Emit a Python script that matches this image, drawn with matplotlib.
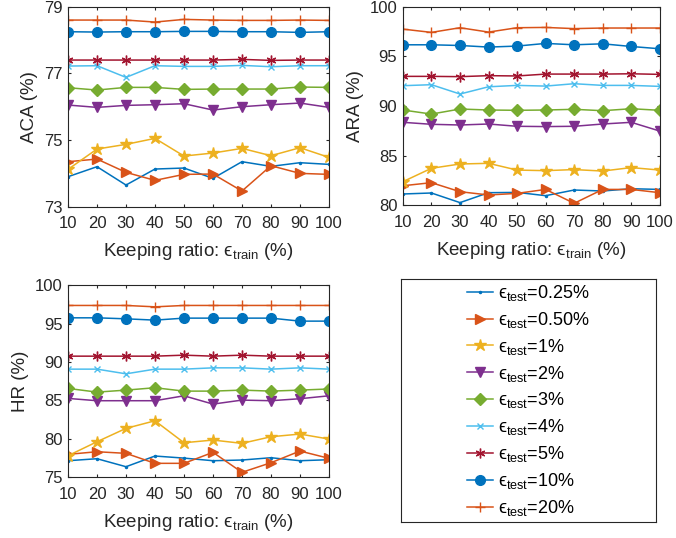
import matplotlib
matplotlib.use("Agg")
import matplotlib.pyplot as plt

plt.rcParams['font.family'] = ['Liberation Sans', 'DejaVu Sans']
plt.rcParams['mathtext.fontset'] = 'custom'
plt.rcParams['mathtext.rm'] = 'Liberation Sans'
plt.rcParams['mathtext.it'] = 'Liberation Sans:italic'
plt.rcParams['font.size'] = 12

# ti le giu lai khi huan luyen (%)
ty_le = [10, 20, 30, 40, 50, 60, 70, 80, 90, 100]
nhan_test = ['0.25%', '0.50%', '1%', '2%', '3%', '4%', '5%', '10%', '20%']

aca = [
    [73.90, 74.20, 73.65, 74.13, 74.16, 73.85, 74.35, 74.21, 74.32, 74.27],
    [74.35, 74.43, 74.03, 73.79, 73.97, 73.98, 73.47, 74.23, 74.00, 73.97],
    [74.12, 74.73, 74.87, 75.05, 74.52, 74.61, 74.75, 74.53, 74.77, 74.48],
    [76.05, 75.98, 76.04, 76.06, 76.09, 75.90, 76.00, 76.06, 76.11, 75.98],
    [76.57, 76.50, 76.58, 76.58, 76.52, 76.53, 76.53, 76.53, 76.59, 76.58],
    [77.22, 77.23, 76.88, 77.23, 77.21, 77.21, 77.24, 77.20, 77.23, 77.23],
    [77.40, 77.40, 77.40, 77.40, 77.40, 77.40, 77.42, 77.39, 77.40, 77.40],
    [78.25, 78.24, 78.25, 78.25, 78.26, 78.26, 78.25, 78.25, 78.23, 78.25],
    [78.60, 78.60, 78.60, 78.54, 78.62, 78.60, 78.59, 78.59, 78.60, 78.59],
]

ara = [
    [81.14, 81.24, 80.27, 81.27, 81.30, 80.97, 81.54, 81.44, 81.67, 81.60],
    [81.97, 82.28, 81.37, 81.04, 81.20, 81.60, 80.20, 81.60, 81.60, 81.27],
    [82.38, 83.73, 84.16, 84.23, 83.55, 83.49, 83.60, 83.45, 83.80, 83.55],
    [88.36, 88.16, 88.09, 88.19, 87.96, 87.93, 87.96, 88.19, 88.36, 87.48],
    [89.60, 89.19, 89.70, 89.60, 89.57, 89.60, 89.67, 89.53, 89.73, 89.57],
    [92.05, 92.15, 91.21, 91.94, 92.08, 92.01, 92.25, 92.08, 92.08, 91.98],
    [92.99, 92.99, 92.96, 93.06, 93.03, 93.22, 93.22, 93.22, 93.25, 93.19],
    [96.17, 96.17, 96.10, 95.94, 96.04, 96.31, 96.17, 96.27, 96.00, 95.77],
    [97.75, 97.42, 97.89, 97.45, 97.89, 97.92, 97.80, 97.86, 97.86, 97.86],
]

hr = [
    [77.16, 77.42, 76.38, 77.77, 77.50, 77.16, 77.25, 77.55, 77.16, 77.29],
    [77.99, 78.33, 78.12, 76.82, 76.82, 78.25, 75.65, 76.90, 78.42, 77.47],
    [77.81, 79.63, 81.37, 82.36, 79.50, 79.85, 79.42, 80.28, 80.63, 79.98],
    [85.27, 84.97, 84.97, 84.97, 85.61, 84.53, 85.05, 84.97, 85.23, 85.61],
    [86.57, 86.09, 86.35, 86.66, 86.22, 86.22, 86.35, 86.22, 86.35, 86.50],
    [89.08, 89.08, 88.47, 89.08, 89.08, 89.25, 89.25, 89.08, 89.25, 89.08],
    [90.77, 90.77, 90.77, 90.77, 90.90, 90.77, 90.90, 90.77, 90.77, 90.77],
    [95.76, 95.76, 95.63, 95.46, 95.72, 95.72, 95.72, 95.72, 95.33, 95.33],
    [97.37, 97.37, 97.37, 97.19, 97.37, 97.37, 97.37, 97.37, 97.37, 97.37],
]

mau = ['#0072BD', '#D95319', '#EDB120', '#7E2F8E', '#77AC30',
       '#4DBEEE', '#A2142F', '#0072BD', '#D95319']
ky_hieu = ['.', '>', '*', 'v', 'D', 'x', (6, 2, 0), 'o', '+']
co_ky_hieu = [3, 7, 9, 7, 6, 5, 7, 7, 7]

fig = plt.figure(figsize=(6.76, 5.38), dpi=100)
ax1 = fig.add_axes([0.1006, 0.6158, 0.386, 0.3717])
ax2 = fig.add_axes([0.596, 0.6184, 0.380, 0.369])
ax3 = fig.add_axes([0.1006, 0.1128, 0.386, 0.357])
ax_lg = fig.add_axes([401 / 676, 1 - 522 / 538, 255 / 676, 243 / 538])


def ve(ax, du_lieu, ten, yticks):
    duong = []
    for i in range(len(du_lieu)):
        l, = ax.plot(ty_le, du_lieu[i], color=mau[i], marker=ky_hieu[i],
                     markersize=co_ky_hieu[i], markerfacecolor=mau[i],
                     markeredgecolor=mau[i], linewidth=1.1,
                     label='ϵ$_{\\rm test}$=' + nhan_test[i])
        duong.append(l)
    ax.set_xlim(10, 100)
    ax.set_ylim(yticks[0], yticks[-1])
    ax.set_xticks(ty_le)
    ax.set_yticks(yticks)
    ax.tick_params(direction='in', top=True, right=True, length=2.5,
                   labelsize=12, colors='#262626')
    ax.tick_params(axis='x', pad=7)
    ax.tick_params(axis='y', pad=4)
    for s in ax.spines.values():
        s.set_color('#262626')
    ax.set_ylabel(ten, fontsize=13.5, color='#262626', labelpad=4)
    ax.set_xlabel('Keeping ratio: ϵ$_{\\rm train}$ (%)', fontsize=13.5,
                  color='#262626', labelpad=7)
    return duong


ds = ve(ax1, aca, 'ACA (%)', [73, 75, 77, 79])
ve(ax2, ara, 'ARA (%)', [80, 85, 90, 95, 100])
ve(ax3, hr, 'HR (%)', [75, 80, 85, 90, 95, 100])

ax_lg.set_xticks([])
ax_lg.set_yticks([])
for s in ax_lg.spines.values():
    s.set_color('#262626')
ax_lg.legend(handles=ds, loc='center', frameon=False, handlelength=1.4,
             handletextpad=0.3, labelspacing=0.38, fontsize=13)

fig.savefig('out.png', dpi=100)
